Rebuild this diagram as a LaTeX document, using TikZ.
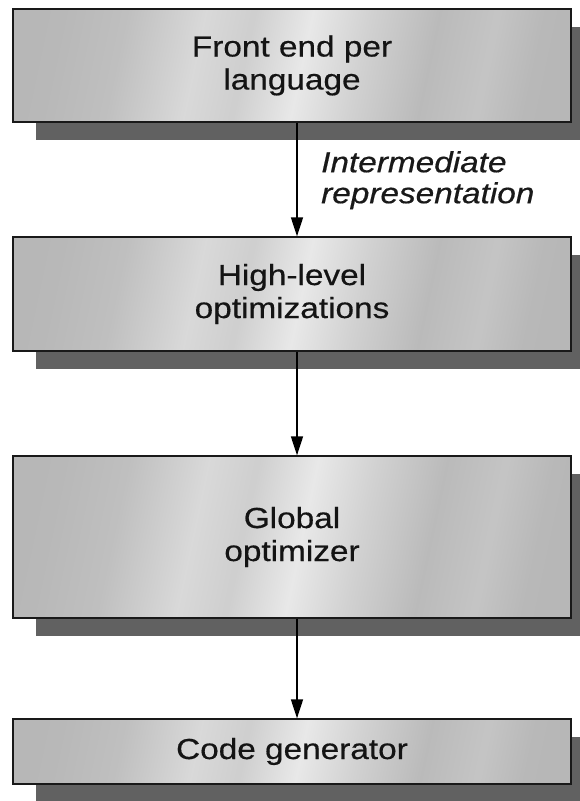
\documentclass[tikz,border=0pt]{standalone}
\usepackage{fontspec}
\setmainfont[FakeStretch=1.15, FakeBold=0.5]{Liberation Sans}
\usetikzlibrary{arrows.meta,shadows}

% brushed-metal fill for the stage boxes
\pgfdeclarehorizontalshading{brushedmetal}{100bp}{%
  color(0bp)=(black!29);
  color(25bp)=(black!28);
  color(32bp)=(black!25);
  color(40bp)=(black!15);
  color(45bp)=(black!19);
  color(51bp)=(black!9);
  color(57bp)=(black!18);
  color(64bp)=(black!27);
  color(70bp)=(black!23);
  color(75bp)=(black!28);
  color(100bp)=(black!29)}

\tikzset{
  stage/.style={shade, shading=brushedmetal, shading angle=-12,
    draw=black!90, line width=1.3pt, inner sep=0pt,
    minimum width=558pt, align=center, text=black!92,
    font=\fontsize{29}{33}\selectfont,
    drop shadow={shadow xshift=23pt, shadow yshift=-18pt,
      fill=black!62, draw=none, opacity=1}},
  flow/.style={line width=1.4pt, draw=black,
    -{Triangle[length=19pt,width=12pt]}},
  note/.style={inner sep=0pt, align=left, anchor=north west,
    font=\fontsize{29}{31}\selectfont\itshape, text=black!90}
}

\begin{document}
\begin{tikzpicture}[x=1pt, y=-1pt]
  \useasboundingbox[fill=white] (0,0) rectangle (579,801);

  % the four compiler stages
  \node[stage, minimum height=113pt] (fe) at (292,65.5) {Front end per\\language};
  \node[stage, minimum height=114pt] (hl) at (292,294) {High-level\\optimizations};
  \node[stage, minimum height=162pt] (go) at (292,537) {Global\\optimizer};
  \node[stage, minimum height=65pt]  (cg) at (292,751.5) {Code generator};

  % vertical line along which the stages are connected
  \coordinate (ax) at (297,0);

  \draw[flow] (fe.south -| ax) -- (hl.north -| ax);
  \draw[flow] (hl.south -| ax) -- (go.north -| ax);
  \draw[flow] (go.south -| ax) -- (cg.north -| ax);

  \node[note] (ir) at (321,151) {Intermediate\\representation};
\end{tikzpicture}
\end{document}
